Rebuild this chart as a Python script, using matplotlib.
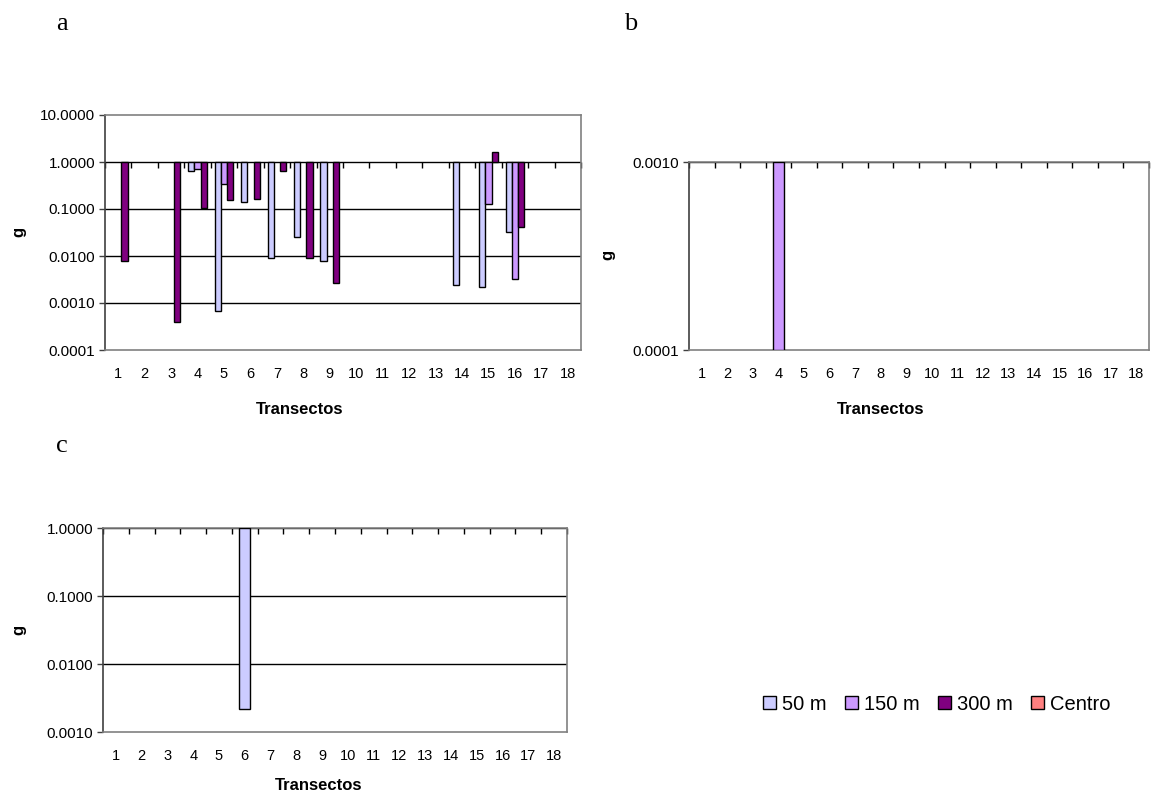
import matplotlib
matplotlib.use("Agg")
import matplotlib.pyplot as plt
import numpy as np
from matplotlib.markers import TICKDOWN
from matplotlib.patches import Patch

plt.rcParams['font.family'] = ['Liberation Sans', 'DejaVu Sans']

# ---------------- data ----------------
transectos = [str(i) for i in range(1, 19)]
series_names = ["50 m", "150 m", "300 m", "Centro"]
series_colors = ["#CCCCFF", "#CC99FF", "#800080", "#FF8080"]

# Panel a (NaN = no bar)
nan = np.nan
a_50 = [nan, nan, nan, 0.64, 0.00068, 0.143, 0.0092, 0.0257, 0.0079,
        nan, nan, nan, nan, 0.0024, 0.0022, 0.032, nan, nan]
a_150 = [nan, nan, nan, 0.70, 0.335, nan, nan, nan, nan,
         nan, nan, nan, nan, nan, 0.126, 0.0032, nan, nan]
a_300 = [0.0079, nan, 0.0004, 0.107, 0.153, 0.166, 0.64, 0.0092, 0.0026,
         nan, nan, nan, nan, nan, 1.66, 0.041, nan, nan]

# Panel b: only 150 m
b_150 = [nan, nan, nan, 0.0001, nan, nan, nan, nan, nan,
         nan, nan, nan, nan, nan, nan, nan, nan, nan]

# Panel c: only 50 m
c_50 = [nan, nan, nan, nan, nan, 0.00216, nan, nan, nan,
        nan, nan, nan, nan, nan, nan, nan, nan, nan]

a_yticks = [0.0001, 0.001, 0.01, 0.1, 1, 10]
b_yticks = [0.0001, 0.001]
c_yticks = [0.001, 0.01, 0.1, 1]

# ---------------- layout ----------------
W, H = 1151, 795
fig = plt.figure(figsize=(W / 100, H / 100), dpi=100)


def rect(l, r, t, b):
    return [l / W, 1 - b / H, (r - l) / W, (b - t) / H]


def setup(ax, yticks, cross, ylim):
    ax.set_yscale('log')
    ax.set_ylim(*ylim)
    ax.set_xlim(-0.5, 17.5)
    ax.set_yticks(yticks)
    ax.set_yticklabels([f"{v:.4f}" for v in yticks])
    ax.yaxis.set_minor_locator(matplotlib.ticker.NullLocator())
    ax.set_xticks(range(18))
    ax.set_xticklabels(transectos)
    ax.tick_params(axis='x', length=0, pad=12, labelsize=10.5)
    ax.tick_params(axis='y', direction='out', length=4, width=1,
                   color='#404040', labelsize=11, pad=3)
    for y in yticks:
        if ylim[0] < y < ylim[1] and y != cross:
            ax.axhline(y, color='black', lw=1, zorder=1)
    ax.axhline(cross, color='black', lw=1, zorder=1)
    for s in ['top', 'right', 'bottom']:
        ax.spines[s].set_color('#808080')
        ax.spines[s].set_linewidth(1.2)
    ax.spines['left'].set_color('#404040')
    ax.spines['left'].set_linewidth(1.2)
    bounds = np.arange(-0.5, 18, 1.0)
    ax.plot(bounds, [cross] * len(bounds), ls='none', marker=TICKDOWN,
            ms=4, mew=1, color='black', zorder=2, clip_on=False)


def draw_bars(ax, x, vals, cross, width, color):
    vals = np.asarray(vals, dtype=float)
    m = ~np.isnan(vals)
    ax.bar(np.asarray(x)[m], vals[m] - cross, bottom=cross, width=width,
           color=color, edgecolor='black', linewidth=1, zorder=3)


xs = np.arange(18)

# Panel a
axa = fig.add_axes(rect(105, 581, 115, 350))
setup(axa, a_yticks, 1.0, (0.0001, 10))
w = 0.235
for k, vals in enumerate([a_50, a_150, a_300]):
    draw_bars(axa, xs + (k - 1) * w, vals, 1.0, w, series_colors[k])

# Panel b
axb = fig.add_axes(rect(689, 1149, 162, 350))
setup(axb, b_yticks, 0.001, (0.0001, 0.001))
draw_bars(axb, xs, b_150, 0.001, 0.42, series_colors[1])

# Panel c
axc = fig.add_axes(rect(103, 567, 528, 732))
setup(axc, c_yticks, 1.0, (0.001, 1))
draw_bars(axc, xs, c_50, 1.0, 0.42, series_colors[0])

# axis titles
lab = dict(fontsize=12, fontweight='bold', ha='center', va='center')
fig.text(300 / W, 1 - 410 / H, "Transectos", **lab)
fig.text(881 / W, 1 - 410 / H, "Transectos", **lab)
fig.text(319 / W, 1 - 786 / H, "Transectos", **lab)
fig.text(19 / W, 1 - 232 / H, "g", rotation=90, **lab)
fig.text(608 / W, 1 - 255 / H, "g", rotation=90, **lab)
fig.text(19 / W, 1 - 630 / H, "g", rotation=90, **lab)

# panel letters
let = dict(fontsize=19, family='Liberation Serif', ha='center', va='center')
fig.text(62 / W, 1 - 24 / H, "a", **let)
fig.text(631 / W, 1 - 24 / H, "b", **let)
fig.text(62 / W, 1 - 446 / H, "c", **let)

# legend
handles = [Patch(facecolor=c, edgecolor='black', linewidth=1) for c in series_colors]
fig.legend(handles, series_names, loc='center', bbox_to_anchor=(937 / W, 1 - 704 / H),
           ncol=4, frameon=False, fontsize=14.5, handlelength=0.65, handleheight=0.65,
           handletextpad=0.3, columnspacing=0.9, borderpad=0)

fig.savefig("out.png", dpi=100)
